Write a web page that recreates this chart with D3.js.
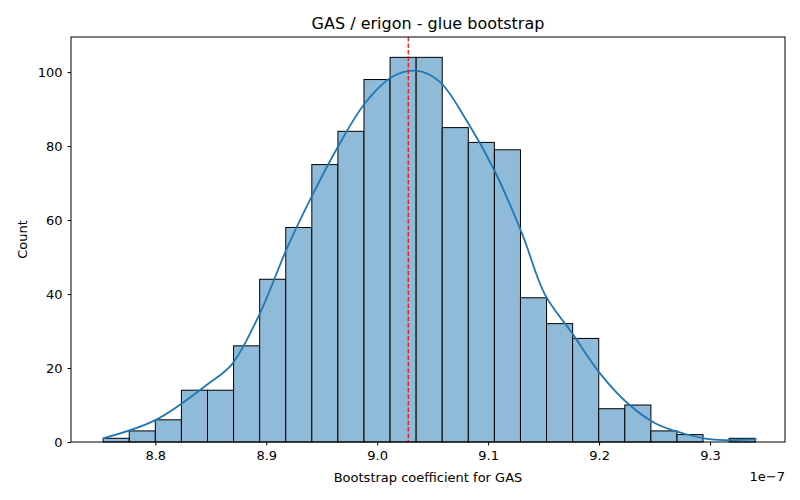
<!DOCTYPE html>
<html><head><meta charset="utf-8">
<script src="https://cdn.jsdelivr.net/npm/d3@7"></script>
<style>body{margin:0;background:#fff}text{font-family:"DejaVu Sans",sans-serif;fill:#000}</style>
</head><body><svg id="c" width="800" height="500"></svg>
<script>
// histogram (units of 1e-7)
var binStart = 8.753, binWidth = 0.02351;
var counts = [1,3,6,14,14,26,44,58,75,84,98,104,104,85,81,79,39,32,28,9,10,3,2,0,1];
var kdeX = [8.753,8.8,8.848,8.869,8.894,8.919,8.942,8.964,8.989,9.014,9.035,9.056,9.081,9.106,9.131,9.151,9.176,9.201,9.226,9.251,9.276,9.301,9.342];
var kdeY = [1.0,5.9,15.8,21,34.6,52.6,67,79.5,91.6,98.8,100.4,97.5,86.7,73.2,56,40,29.3,18.5,10.4,5,2.3,0.7,0.7];
var meanVal = 9.028;
var xTicks = [8.8,8.9,9.0,9.1,9.2,9.3];
var yTicks = [0,20,40,60,80,100];

var svg = d3.select("#c");
var m = {l:71, r:785, t:37, b:442};
var x = d3.scaleLinear().domain([8.724, 9.3676]).range([m.l, m.r]);
var y = d3.scaleLinear().domain([0, 109.5]).range([m.b, m.t]);

svg.append("g").selectAll("rect").data(counts).join("rect")
  .attr("x", function(d,i){ return x(binStart + i*binWidth); })
  .attr("width", function(d,i){ return x(binStart + (i+1)*binWidth) - x(binStart + i*binWidth); })
  .attr("y", function(d){ return y(d); })
  .attr("height", function(d){ return y(0) - y(d); })
  .attr("fill", "rgb(143,187,217)").attr("stroke", "#000").attr("stroke-width", 1)
  .style("display", function(d){ return d ? null : "none"; });

var line = d3.line().x(function(d){ return x(d[0]); }).y(function(d){ return y(d[1]); }).curve(d3.curveCatmullRom);
svg.append("path").datum(d3.zip(kdeX, kdeY)).attr("d", line)
  .attr("fill", "none").attr("stroke", "#1f77b4").attr("stroke-width", 1.8);

svg.append("line").attr("x1", x(meanVal)).attr("x2", x(meanVal)).attr("y1", m.t).attr("y2", m.b)
  .attr("stroke", "red").attr("stroke-width", 1.2).attr("stroke-dasharray", "4.5,2");

var xa = svg.append("g").attr("transform", "translate(0," + m.b + ")")
  .call(d3.axisBottom(x).tickValues(xTicks).tickFormat(d3.format(".1f")).tickSize(3.5).tickPadding(5));
var ya = svg.append("g").attr("transform", "translate(" + m.l + ",0)")
  .call(d3.axisLeft(y).tickValues(yTicks).tickSize(3.5).tickPadding(5));
[xa, ya].forEach(function(a){
  a.select(".domain").remove();
  a.selectAll("text").style("font-size", "13px").style("font-family", "DejaVu Sans");
});
svg.append("rect").attr("x", m.l).attr("y", m.t).attr("width", m.r-m.l).attr("height", m.b-m.t)
  .attr("fill", "none").attr("stroke", "#000").attr("stroke-width", 1);

svg.append("text").attr("x", (m.l+m.r)/2).attr("y", 29).attr("text-anchor", "middle")
  .style("font-size", "16px").text("GAS / erigon - glue bootstrap");
svg.append("text").attr("x", (m.l+m.r)/2).attr("y", 482).attr("text-anchor", "middle")
  .style("font-size", "13px").text("Bootstrap coefficient for GAS");
svg.append("text").attr("transform", "translate(27," + (m.t+m.b)/2 + ") rotate(-90)")
  .attr("text-anchor", "middle").style("font-size", "13px").text("Count");
svg.append("text").attr("x", m.r).attr("y", 481).attr("text-anchor", "end")
  .style("font-size", "13px").text("1e\u22127");
</script></body></html>
